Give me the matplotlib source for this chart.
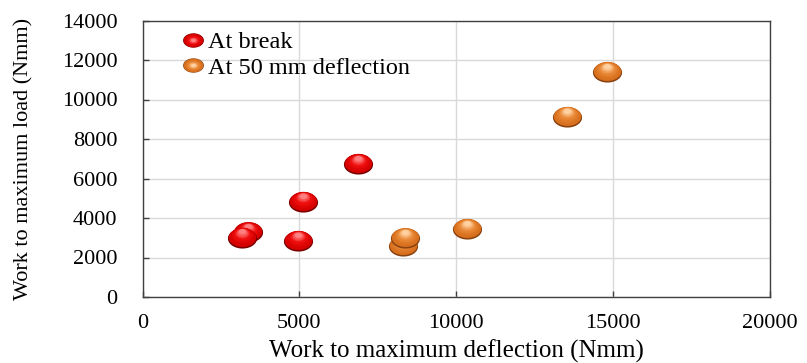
import numpy as np
import matplotlib
matplotlib.use("Agg")
import matplotlib.pyplot as plt
from matplotlib.path import Path
from matplotlib.transforms import offset_copy
from matplotlib.lines import Line2D
from matplotlib.legend_handler import HandlerTuple
from matplotlib.colors import to_rgb

# ---- data ----
break_x = [3370, 3160, 4960, 5120, 6870]
break_y = [3310, 3050, 2890, 4860, 6770]
defl_x = [8300, 8360, 10340, 13540, 14800]
defl_y = [2630, 3020, 3480, 9170, 11430]
labels = ["At break", "At 50 mm deflection"]
x_ticks = [0, 5000, 10000, 15000, 20000]
y_ticks = [0, 2000, 4000, 6000, 8000, 10000, 12000, 14000]

plt.rcParams['font.family'] = ['Liberation Serif', 'DejaVu Serif']

fig = plt.figure(figsize=(8.07, 3.63), dpi=100)
ax = fig.add_axes([142.5/807, 1-297/363, (770-142.5)/807, (297-20.5)/363])

# ellipse marker
t = np.linspace(0, 2*np.pi, 64)
ell = Path(np.column_stack([np.cos(t), 0.69*np.sin(t)]), closed=True)

def mix(c1, c2, f):
    a, b = np.array(to_rgb(c1)), np.array(to_rgb(c2))
    return tuple(a + (b - a) * f)

schemes = {
    "red": dict(edge="#7a0000", body="#d60000", mid="#f01010", hi="#ff8080"),
    "orange": dict(edge="#8a4210", body="#d8701e", mid="#ea8a38", hi="#ffd0a0"),
}

def ball_layers(sc, n=9):
    layers = [(1.0, -0.6, sc["edge"])]
    layers.append((0.94, 0.1, sc["body"]))
    for i in range(n):
        f = i / (n - 1)
        scale = 0.86 - 0.62 * f
        dy = 0.6 + 3.2 * f
        if f < 0.5:
            col = mix(sc["body"], sc["mid"], f * 2)
        else:
            col = mix(sc["mid"], sc["hi"], (f - 0.5) * 2)
        layers.append((scale, dy, col))
    return layers

def draw_ball(x, y, sc, z, size=21.0):
    for k, (scale, dy, col) in enumerate(ball_layers(sc)):
        tr = offset_copy(ax.transData, fig=fig, x=0, y=dy, units='points')
        ax.scatter([x], [y], s=(size*scale)**2, marker=ell, color=col,
                   linewidths=0, transform=tr, zorder=z + k*0.001, clip_on=False)

z = 3
for x, y in zip(break_x, break_y):
    draw_ball(x, y, schemes["red"], z); z += 0.1
for x, y in zip(defl_x, defl_y):
    draw_ball(x, y, schemes["orange"], z); z += 0.1

ax.set_xlim(0, 20000)
ax.set_ylim(0, 14000)
ax.set_xticks(x_ticks)
ax.set_yticks(y_ticks)
ax.grid(True, color="#d9d9d9", linewidth=1.0, zorder=0)
ax.set_axisbelow(True)
for s in ax.spines.values():
    s.set_color("#404040")
    s.set_linewidth(1.0)
ax.tick_params(direction='in', length=4, width=1, color="#404040",
               labelsize=16)
ax.tick_params(axis='y', pad=18)
ax.tick_params(axis='x', pad=12)

ax.set_xlabel("Work to maximum deflection (Nmm)", fontsize=18)
ax.xaxis.set_label_coords(0.5, -0.155)
ax.set_ylabel("Work to maximum load (Nmm)", fontsize=16)
ax.yaxis.set_label_coords(-0.1745, 0.5)

# legend with layered handles
def legend_handle(sc):
    hs = []
    for scale, dy, col in ball_layers(sc, n=5):
        hs.append(Line2D([], [], linestyle='none', marker=ell,
                         markersize=15*scale, markerfacecolor=col,
                         markeredgewidth=0))
    return tuple(hs)

handles = [legend_handle(schemes["red"]), legend_handle(schemes["orange"])]
ax.legend(handles, labels, handler_map={tuple: HandlerTuple(ndivide=1, pad=0)},
          loc='upper left', bbox_to_anchor=(0.053, 0.997), frameon=False,
          fontsize=17.5, handlelength=0.6, handletextpad=0.32,
          labelspacing=0.15, borderaxespad=0)

fig.savefig("out.png", dpi=100)
